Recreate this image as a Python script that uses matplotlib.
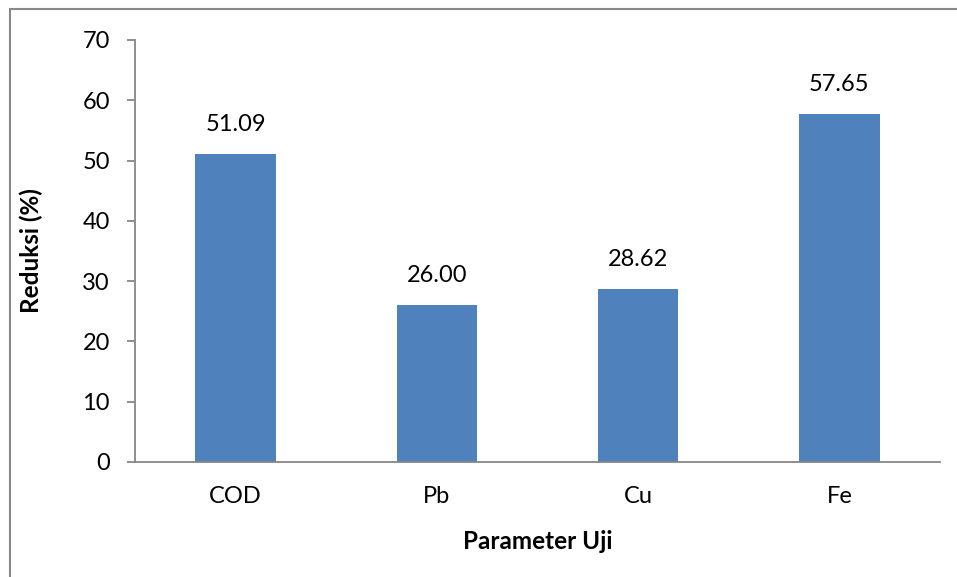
import matplotlib.pyplot as plt
from matplotlib.patches import Rectangle

categories = ["COD", "Pb", "Cu", "Fe"]
reduksi = [51.09, 26.00, 28.62, 57.65]
y_ticks = [0, 10, 20, 30, 40, 50, 60, 70]

plt.rcParams['font.family'] = ['Lato', 'DejaVu Sans']

W, H = 957, 577
fig = plt.figure(figsize=(W / 100, H / 100), dpi=100)

# outer chart border (Excel style)
fig.patches.append(Rectangle((10 / W, -0.1), 1.2, 1 - 9 / H + 0.1,
                             transform=fig.transFigure, fill=False,
                             edgecolor="#888888", linewidth=1.5))

ax = fig.add_axes([135 / W, 1 - 462 / H, (940 - 135) / W, (462 - 40) / H])

x = range(len(categories))
bars = ax.bar(x, reduksi, width=0.4, color="#4F81BD")

for xi, v in zip(x, reduksi):
    ax.annotate(f"{v:.2f}", (xi, v), xytext=(0, 14), textcoords="offset points",
                ha="center", va="bottom", fontsize=17, color="black")

ax.set_xlim(-0.5, len(categories) - 0.5)
ax.set_ylim(0, 70)
ax.set_yticks(y_ticks)
ax.set_xticks(list(x))
ax.set_xticklabels(categories)

for s in ["top", "right"]:
    ax.spines[s].set_visible(False)
for s in ["left", "bottom"]:
    ax.spines[s].set_color("#868686")
    ax.spines[s].set_linewidth(1.3)

ax.tick_params(axis="y", direction="out", length=6, width=1.3, color="#868686",
               labelsize=17, pad=12)
ax.tick_params(axis="x", length=0, labelsize=17, pad=17)

ax.set_ylabel("Reduksi (%)", fontsize=17.5, fontweight="bold", labelpad=28)
ax.set_xlabel("Parameter Uji", fontsize=17.5, fontweight="bold", labelpad=17)

fig.savefig("out.png", dpi=100)
